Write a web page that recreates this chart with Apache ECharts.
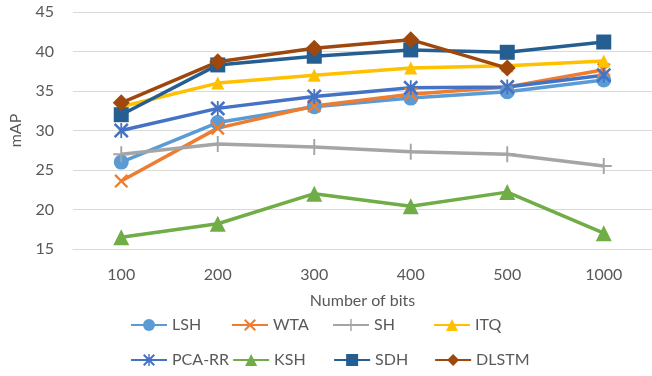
<!DOCTYPE html>
<html>
<head>
<meta charset="utf-8">
<script src="https://cdn.jsdelivr.net/npm/echarts@6/dist/echarts.min.js"></script>
<style>
  html, body { margin: 0; padding: 0; background: #fff; }
  #chart { width: 652px; height: 376px; }
</style>
</head>
<body>
<div id="chart"></div>
<script>
const bits = ['100', '200', '300', '400', '500', '1000'];

const lsh = [26.0, 31.0, 33.0, 34.1, 34.9, 36.4];
const wta = [23.6, 30.3, 33.1, 34.6, 35.5, 37.7];
const sh = [27.0, 28.3, 27.9, 27.3, 27.0, 25.5];
const itq = [33.0, 36.0, 37.0, 37.9, 38.2, 38.8];
const pcaRr = [30.0, 32.8, 34.3, 35.4, 35.5, 37.0];
const ksh = [16.5, 18.2, 22.0, 20.4, 22.2, 17.0];
const sdh = [32.0, 38.3, 39.4, 40.2, 39.9, 41.2];
const dlstm = [33.5, 38.7, 40.4, 41.5, 37.9, null];

const legendRow1 = ['LSH', 'WTA', 'SH', 'ITQ'];
const legendRow2 = ['PCA-RR', 'KSH', 'SDH', 'DLSTM'];

const font = 'Lato, "Open Sans", sans-serif';
const grey = '#595959';

// thin cross-like markers are drawn as filled paths
const xMark = 'path://M0,1.2 L1.2,0 L10,8.8 L8.8,10 Z M8.8,0 L10,1.2 L1.2,10 L0,8.8 Z';
const plusMark = 'path://M4.4,0 H5.6 V10 H4.4 Z M0,4.4 H10 V5.6 H0 Z';
const starMark = 'path://M0,1.2 L1.2,0 L10,8.8 L8.8,10 Z M8.8,0 L10,1.2 L1.2,10 L0,8.8 Z M4.4,0 H5.6 V10 H4.4 Z';

function line(name, data, color, symbol, size) {
  return {
    name,
    type: 'line',
    data,
    symbol,
    symbolSize: size,
    animation: false,
    lineStyle: { width: 3.5, color },
    itemStyle: { color },
  };
}

function legendRow(data, top) {
  return {
    data,
    left: 130,
    top,
    padding: 0,
    itemWidth: 36,
    itemHeight: 15,
    itemGap: 3,
    formatter: '{t|{name}}',
    textStyle: {
      rich: {
        t: { width: 56, fontSize: 16, lineHeight: 20, color: grey, fontFamily: font },
      },
    },
  };
}

const chart = echarts.init(document.getElementById('chart'));
chart.setOption({
  textStyle: { fontFamily: font },
  grid: {
    top: 12,
    left: 69,
    width: 588,
    height: 237,
  },
  legend: [legendRow(legendRow1, 317), legendRow(legendRow2, 352)],
  xAxis: {
    type: 'category',
    data: bits,
    name: 'Number of bits',
    nameLocation: 'center',
    nameGap: 44,
    nameTextStyle: { fontSize: 16, color: grey, fontFamily: font },
    axisLine: { lineStyle: { color: '#d9d9d9' } },
    axisTick: { show: false },
    axisLabel: { fontSize: 16, color: grey, margin: 18 },
  },
  yAxis: {
    type: 'value',
    min: 15,
    max: 45,
    interval: 5,
    name: 'mAP',
    nameLocation: 'center',
    nameGap: 49,
    nameTextStyle: { fontSize: 16, color: grey, fontFamily: font },
    axisLabel: { fontSize: 16, color: grey, margin: 19 },
    splitLine: { lineStyle: { color: '#d9d9d9' } },
  },
  series: [
    line('LSH', lsh, '#5B9BD5', 'circle', 15),
    line('WTA', wta, '#ED7D31', xMark, 14),
    line('SH', sh, '#A5A5A5', plusMark, 16),
    line('ITQ', itq, '#FFC000', 'triangle', 13),
    line('PCA-RR', pcaRr, '#4472C4', starMark, 15),
    line('KSH', ksh, '#70AD47', 'triangle', 16),
    line('SDH', sdh, '#255E91', 'rect', 15),
    line('DLSTM', dlstm, '#9E480E', 'diamond', 17),
  ],
});
</script>
</body>
</html>
